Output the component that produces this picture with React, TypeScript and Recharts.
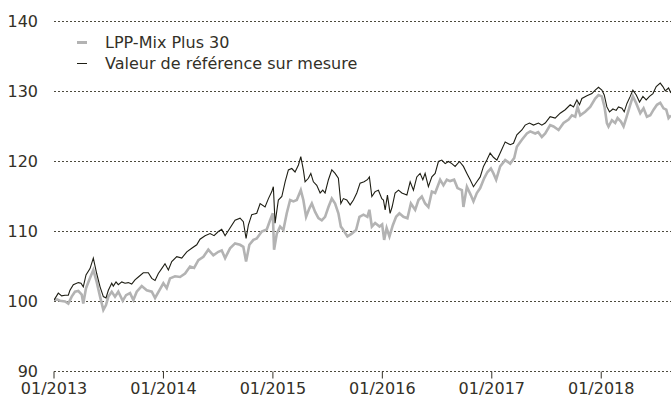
import React from 'react';
import { LineChart, Line, XAxis, YAxis, CartesianGrid, Legend } from 'recharts';

// months since 01/2013
const refMonths = [0,0.47,0.84,1.21,1.57,1.75,2.12,2.67,2.96,3.21,3.51,3.95,4.31,4.68,5.05,5.41,5.7,5.96,6.33,6.5,6.8,7.05,7.43,7.79,8.15,8.52,8.88,9.25,9.79,10.34,10.72,11.08,11.44,11.81,12.17,12.54,12.91,13.46,14.01,14.56,15.1,15.65,16.01,16.56,17.11,17.55,18.02,18.39,18.76,19.3,19.85,20.4,20.76,21.06,21.31,21.68,22.23,22.6,23.14,23.51,23.88,24.05,24.24,24.6,24.98,25.34,25.7,26.07,26.43,26.8,27.06,27.34,27.53,27.89,28.16,28.44,28.81,29.18,29.47,29.72,30.09,30.46,30.82,31.18,31.45,31.73,32.1,32.47,32.83,33.2,33.56,34,34.36,34.58,34.85,35.21,35.57,35.94,36.12,36.31,36.56,36.85,37.07,37.4,37.77,38.14,38.69,39.05,39.41,39.78,40.14,40.44,40.69,41.05,41.43,41.79,42.15,42.52,42.89,43.25,43.62,43.98,44.46,44.89,45.27,45.63,45.99,46.36,46.73,47.09,47.46,47.82,48.18,48.56,48.92,49.47,50.02,50.38,50.75,51.3,51.66,52.13,52.57,53.12,53.49,53.86,54.4,54.95,55.5,56.05,56.6,56.96,57.33,57.62,57.88,58.43,58.98,59.34,59.7,60.07,60.33,60.62,60.91,61.28,61.64,61.89,62.27,62.52,62.82,63.18,63.47,63.84,64.2,64.57,64.93,65.29,65.67,66.03,66.47,66.76,67.02,67.38,67.64];
const refValues = [100.2,101.2,100.8,100.9,100.9,101.6,102.4,102.7,102.6,102.1,103.8,104.7,106.2,104.0,102.1,100.7,100.5,101.6,102.6,102.2,102.8,102.4,102.8,102.6,102.7,102.5,103.1,103.5,104.1,104.1,103.3,103.0,104.0,104.7,105.4,104.5,105.7,106.4,106.2,107.1,107.6,108.1,108.9,109.4,109.7,109.4,110.0,110.3,109.4,110.5,111.6,111.9,111.4,109.0,110.9,112.4,112.6,114.0,113.5,114.7,115.7,116.4,111.2,114.5,115.0,117.1,118.8,119.0,118.5,119.5,120.7,118.8,117.1,117.6,118.3,117.1,116.6,115.5,115.9,115.5,117.4,118.8,118.3,117.6,114.0,114.7,114.5,113.8,114.5,115.5,116.9,117.1,117.4,117.8,115.0,115.7,115.9,114.7,114.5,113.1,115.2,112.6,113.5,115.5,115.9,115.5,115.2,117.1,115.9,117.8,118.3,117.4,118.3,116.4,117.8,118.3,120.0,120.2,119.7,120.0,119.7,119.3,120.0,119.3,118.3,117.4,116.4,117.1,117.8,119.3,120.2,121.2,120.6,120.2,121.2,122.8,122.4,122.6,123.8,124.5,125.2,125.5,125.2,125.5,125.2,125.5,126.4,126.2,126.9,127.4,128.1,127.8,128.8,128.1,129.0,129.4,129.7,130.2,130.6,130.2,129.5,127.8,127.1,127.5,127.3,127.8,127.6,127.1,128.3,129.3,130.2,129.5,128.5,129.3,128.8,129.3,129.7,130.7,131.2,130.7,130.1,130.5,129.8];

const lppMonths = [0,0.33,0.66,1.21,1.57,1.94,2.3,2.67,3.04,3.21,3.51,3.87,4.31,4.68,5.05,5.41,5.7,5.96,6.33,6.69,7.05,7.54,7.9,8.34,8.7,9.07,9.62,10.17,10.72,11.08,11.55,11.99,12.36,12.72,13.27,13.82,14.37,14.92,15.36,15.83,16.38,16.92,17.47,18.02,18.39,18.76,19.3,19.85,20.4,20.76,21.06,21.42,21.86,22.23,22.78,23.33,23.69,23.99,24.13,24.43,24.79,25.15,25.52,25.89,26.25,26.62,27.06,27.34,27.64,28,28.27,28.63,28.99,29.36,29.72,30.09,30.46,30.82,31.18,31.45,31.73,32.17,32.65,33.12,33.49,33.93,34.36,34.58,34.85,35.21,35.69,35.98,36.2,36.47,36.78,37.15,37.51,37.87,38.31,38.75,39.13,39.6,39.96,40.33,40.69,41.05,41.43,41.79,42.34,42.7,43.07,43.43,43.87,44.24,44.72,44.89,45.27,45.7,45.99,46.36,46.73,47.16,47.53,47.9,48.18,48.48,48.92,49.47,50.02,50.46,50.75,51.3,51.85,52.21,52.76,53.09,53.49,53.86,54.4,54.77,55.32,55.87,56.42,56.79,57.15,57.4,57.7,58.24,58.79,59.34,59.7,60.07,60.36,60.62,60.8,61.17,61.53,61.79,62.16,62.45,62.74,63.11,63.47,63.84,64.28,64.64,65.01,65.38,65.74,66.11,66.47,66.83,67.13,67.38,67.64];
const lppValues = [100.2,100.3,100.1,100.0,99.7,100.7,101.4,101.5,101.0,99.7,101.9,103.1,104.5,102.8,100.7,98.8,99.5,100.7,101.4,100.7,101.4,100.1,100.9,101.2,100.2,101.4,102.2,101.6,101.4,100.5,101.6,102.6,101.9,103.3,103.6,103.5,104.0,105.0,104.8,105.9,106.4,107.4,106.6,107.1,107.3,106.2,107.6,108.3,108.1,107.8,105.7,108.1,108.8,109.0,110.0,110.3,111.6,112.6,107.4,109.7,110.7,110.2,112.6,114.5,114.3,114.5,115.9,114.5,112.1,113.3,114.0,112.8,111.9,111.6,112.1,113.5,114.7,114.0,112.6,110.7,110.2,109.3,109.7,110.2,112.1,112.4,112.1,113.1,110.7,111.2,110.7,111.0,108.8,110.5,109.3,110.9,112.1,112.6,112.1,111.9,114.0,113.1,114.5,115.0,114.0,113.5,115.7,115.5,117.4,116.6,117.4,117.2,117.4,116.2,115.9,113.5,116.4,115.2,114.3,115.5,116.2,117.6,118.5,119.0,118.3,117.4,119.3,120.2,119.7,120.5,122.1,123.1,124.0,124.3,124.0,124.2,123.5,124.0,125.2,125.0,124.5,125.5,126.0,126.6,126.4,127.8,126.6,127.1,127.8,129.0,129.5,129.3,127.8,125.5,125.0,125.9,125.5,126.2,125.7,125.0,126.2,127.8,129.3,128.3,126.9,127.6,126.4,126.6,127.4,128.1,128.4,127.6,127.4,126.2,126.6];

const xTicks = [0, 12, 24, 36, 48, 60];
const xTickLabels = ['01/2013', '01/2014', '01/2015', '01/2016', '01/2017', '01/2018'];
const yTicks = [90, 100, 110, 120, 130, 140];
const seriesNames = ['LPP-Mix Plus 30', 'Valeur de référence sur mesure'];

const refData = refMonths.map((m, i) => ({ m, v: refValues[i] }));
const lppData = lppMonths.map((m, i) => ({ m, v: lppValues[i] }));

const FONT = '"DejaVu Sans", sans-serif';
const TEXT = '#333027';

const renderLegend = () => (
  <div style={{ fontFamily: FONT, fontSize: 16, color: TEXT, lineHeight: '21px' }}>
    <div style={{ display: 'flex', alignItems: 'center' }}>
      <span style={{ display: 'inline-block', width: 10, height: 3, background: '#b3b3b3', marginRight: 18 }} />
      <span>{seriesNames[0]}</span>
    </div>
    <div style={{ display: 'flex', alignItems: 'center' }}>
      <span style={{ display: 'inline-block', width: 10, height: 1, background: '#1e1e14', marginRight: 18 }} />
      <span>{seriesNames[1]}</span>
    </div>
  </div>
);

export default function App() {
  return (
    <div style={{ position: 'absolute', left: 0, top: 0, width: 671, height: 401, background: '#fff' }}>
      <LineChart width={671} height={401} margin={{ top: 21.5, right: 0, bottom: 0, left: 0 }}>
        <CartesianGrid vertical={false} stroke="#4d4a3e" strokeDasharray="2 2" />
        <XAxis
          type="number"
          dataKey="m"
          domain={[0, 67.65]}
          ticks={xTicks}
          tickFormatter={(v: number) => xTickLabels[xTicks.indexOf(v)]}
          axisLine={false}
          tickLine={{ stroke: '#333027' }}
          tickSize={7}
          tickMargin={4}
          height={29.5}
          interval={0}
          allowDataOverflow
          tick={{ fontFamily: FONT, fontSize: 16, fill: TEXT }}
        />
        <YAxis
          type="number"
          domain={[90, 140]}
          ticks={yTicks}
          axisLine={false}
          tickLine={false}
          tickSize={0}
          tickMargin={16}
          width={54}
          interval={0}
          tick={{ fontFamily: FONT, fontSize: 16, fill: TEXT }}
        />
        <Legend
          layout="horizontal"
          verticalAlign="middle"
          align="center"
          content={renderLegend}
          wrapperStyle={{ position: 'absolute', left: 77, top: 31.5, width: 320 }}
        />
        <Line data={lppData} dataKey="v" name={seriesNames[0]} type="linear" stroke="#b3b3b3" strokeWidth={2.6} dot={false} isAnimationActive={false} />
        <Line data={refData} dataKey="v" name={seriesNames[1]} type="linear" stroke="#1e1e14" strokeWidth={1.1} dot={false} isAnimationActive={false} />
      </LineChart>
    </div>
  );
}
